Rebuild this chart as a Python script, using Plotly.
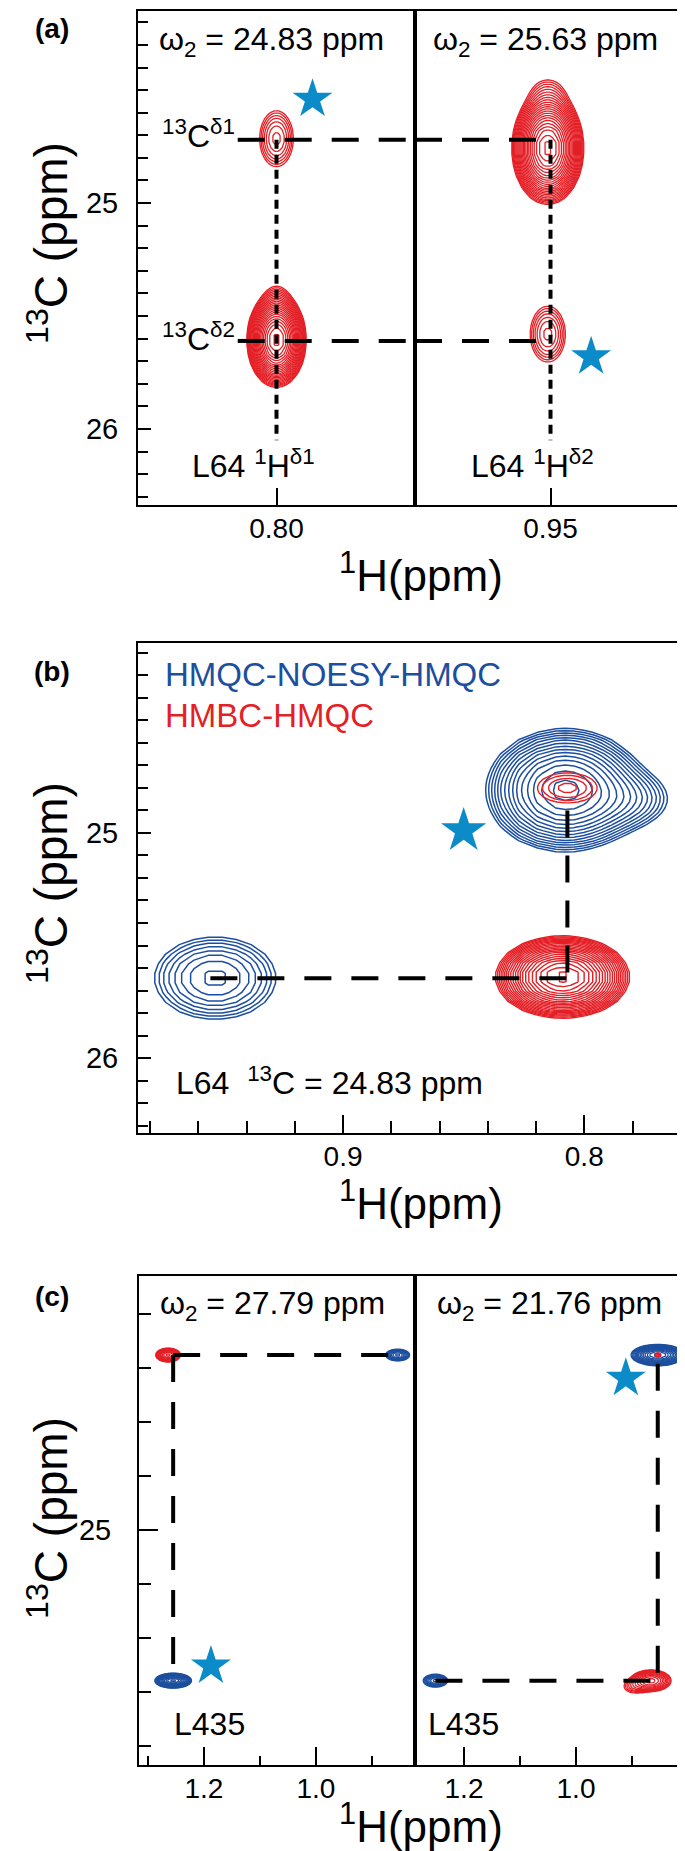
import numpy as np
import plotly.graph_objects as go

W, H = 685, 1851
FONT = "Liberation Sans, Arial, sans-serif"
RED = "#e41f26"
BLUE = "#1d4f9f"
STAR = "#0b8bc7"
STEP = 0.22  # contour spacing in ln(intensity)

# ---------------- (a) L64 HMBC-HMQC strips ----------------
a_strip_h = [0.80, 0.95]
a_strip_w2 = ["24.83", "25.63"]
a_c_d1, a_c_d2 = 24.72, 25.61
a_line_from = 0.814
a_line_end = 26.05
# peaks: strip, 1H, 13C, 1H half-extent, 13C half-extent, number of contours
a_pk_strip = [0, 0, 0, 1, 1, 1]
a_pk_h = [0.800, 0.800, 0.800, 0.951, 0.951, 0.951]
a_pk_c = [24.715, 25.606, 25.45, 24.757, 24.53, 25.58]
a_pk_wh = [0.0061, 0.0108, 0.0038, 0.0134, 0.0055, 0.0065]
a_pk_wc = [0.124, 0.21, 0.07, 0.25, 0.07, 0.124]
a_pk_n = [6, 22, 3, 22, 3, 6]
a_star_h = [0.787, 0.935]
a_star_c = [24.54, 25.68]

# ---------------- (b) L64 overlay ----------------
b_pk_col = ["b", "b", "b", "r", "r"]
b_pk_h = [0.953, 0.808, 0.783, 0.807, 0.809]
b_pk_c = [25.645, 24.81, 24.85, 24.80, 25.64]
b_pk_wh = [0.0253, 0.033, 0.0166, 0.0124, 0.028]
b_pk_wc = [0.184, 0.276, 0.11, 0.067, 0.184]
b_pk_n = [7, 14, 5, 3, 20]
b_line_h = [0.955, 0.807]
b_line_c = [24.90, 25.645]
b_star = (0.850, 24.99)

# ---------------- (c) L435 strips ----------------
c_strip_w2 = ["27.79", "21.76"]
c_c = [21.76, 27.79]
c_h_left = [1.255, 0.855]
c_h_right = [1.251, 0.854]
c_pk_strip = [0, 0, 0, 1, 1, 1, 1, 1]
c_pk_col = ["b", "b", "r", "b", "b", "r", "r", "r"]
c_pk_h = [1.255, 0.854, 1.264, 0.854, 1.251, 0.866, 0.895, 0.854]
c_pk_c = [27.79, 21.76, 21.76, 21.76, 27.79, 27.79, 27.90, 21.76]
c_pk_wh = [0.033, 0.0214, 0.0223, 0.048, 0.022, 0.036, 0.018, 0.005]
c_pk_wc = [0.139, 0.11, 0.13, 0.2, 0.12, 0.2, 0.11, 0.04]
c_pk_n = [14, 8, 10, 14, 8, 10, 3, 2]
c_star_h = [1.1875, 0.911]
c_star_c = [27.52, 22.19]


def fx(p):
    return p / W


def fy(p):
    return 1 - p / H


def surface(h, c, wh, wc, n, nx=16, ny=16):
    xs = np.unique(np.round(np.concatenate(
        [np.linspace(p - 1.5 * w, p + 1.5 * w, nx) for p, w in zip(h, wh)]), 5))
    ys = np.unique(np.round(np.concatenate(
        [np.linspace(q - 1.5 * w, q + 1.5 * w, ny) for q, w in zip(c, wc)]), 5))
    X, Y = np.meshgrid(xs, ys)
    S = np.zeros_like(X)
    for p, q, u, v, k in zip(h, c, wh, wc, n):
        lna = k * STEP + 0.08
        S += np.exp(lna * (1 - ((X - p) / u) ** 2 - ((Y - q) / v) ** 2))
    return xs, ys, np.round(np.log(S + 1e-3), 3)


def contour(sel, h, c, wh, wc, n, color, xa, ya, nx=16, ny=16, width=1.3):
    idx = [i for i, s in enumerate(sel) if s]
    xs, ys, z = surface([h[i] for i in idx], [c[i] for i in idx], [wh[i] for i in idx],
                        [wc[i] for i in idx], [n[i] for i in idx], nx, ny)
    return go.Contour(x=xs, y=ys, z=z, xaxis=xa, yaxis=ya, autocontour=False,
                      contours=dict(start=0, end=40, size=STEP, coloring="lines"),
                      colorscale=[[0, color], [1, color]], showscale=False,
                      line=dict(width=width, smoothing=0), hoverinfo="skip")


def dashed(x, y, xa, ya, dash="27px,20px"):
    return go.Scatter(x=x, y=y, xaxis=xa, yaxis=ya, mode="lines",
                      line=dict(color="black", width=4, dash=dash), hoverinfo="skip")


def star(x, y, xa, ya, size=30):
    return go.Scatter(x=x, y=y, xaxis=xa, yaxis=ya, mode="markers",
                      marker=dict(symbol="star", size=size, color=STAR, line=dict(width=0)),
                      hoverinfo="skip")


fig = go.Figure()

# (a)
for s, (xa, ya) in enumerate([("x", "y"), ("x2", "y2")]):
    fig.add_trace(contour([k == s for k in a_pk_strip], a_pk_h, a_pk_c, a_pk_wh, a_pk_wc,
                          a_pk_n, RED, xa, ya))
    hc = a_strip_h[s]
    fig.add_trace(dashed([hc, hc], [a_c_d1, a_line_end], xa, ya, dash="9px,6px"))
for cc in [a_c_d1, a_c_d2]:
    fig.add_trace(dashed([a_line_from, 0.75], [cc, cc], "x", "y"))
    fig.add_trace(dashed([1.0, a_strip_h[1] + 0.001], [cc, cc], "x2", "y2"))
fig.add_trace(star([a_star_h[0]], [a_star_c[0]], "x", "y"))
fig.add_trace(star([a_star_h[1]], [a_star_c[1]], "x2", "y2"))

# (b)
fig.add_trace(contour([k == "b" for k in b_pk_col], b_pk_h, b_pk_c, b_pk_wh, b_pk_wc,
                      b_pk_n, BLUE, "x3", "y3", 14, 14, 1.5))
fig.add_trace(contour([k == "r" for k in b_pk_col], b_pk_h, b_pk_c, b_pk_wh, b_pk_wc,
                      b_pk_n, RED, "x3", "y3", 14, 14, 1.4))
fig.add_trace(dashed([b_line_h[0], b_line_h[1]], [b_line_c[1], b_line_c[1]], "x3", "y3"))
fig.add_trace(dashed([b_line_h[1], b_line_h[1]], [b_line_c[0], b_line_c[1]], "x3", "y3",
                     dash="27px,18px"))
fig.add_trace(star([b_star[0]], [b_star[1]], "x3", "y3", 34))

# (c)
for s, (xa, ya) in enumerate([("x4", "y4"), ("x5", "y5")]):
    for col, clr in [("b", BLUE), ("r", RED)]:
        fig.add_trace(contour([k == s and q == col for k, q in zip(c_pk_strip, c_pk_col)],
                              c_pk_h, c_pk_c, c_pk_wh, c_pk_wc, c_pk_n, clr, xa, ya))
    fig.add_trace(star([c_star_h[s]], [c_star_c[s]], xa, ya))
fig.add_trace(dashed(c_h_left, [c_c[0], c_c[0]], "x4", "y4"))
fig.add_trace(dashed([c_h_left[0], c_h_left[0]], [c_c[0], c_c[1] + 0.06], "x4", "y4"))
fig.add_trace(dashed(c_h_right, [c_c[1], c_c[1]], "x5", "y5"))
fig.add_trace(dashed([c_h_right[1], c_h_right[1]], [c_c[0] + 0.16, c_c[1]], "x5", "y5"))


def ax(**kw):
    base = dict(showline=True, linecolor="black", linewidth=2, mirror=True, showgrid=False,
                zeroline=False, ticks="inside", tickcolor="black", tickwidth=2,
                tickfont=dict(family=FONT, size=29, color="black"), fixedrange=True)
    base.update(kw)
    return base


def xax(**kw):
    return ax(tickfont=dict(family=FONT, size=28, color="black"), ticklabelstandoff=-3, **kw)


def minor(dt, t0, ln):
    return dict(dtick=dt, tick0=t0, ticklen=ln, ticks="inside", tickwidth=2, tickcolor="black")


a_yr = [26.336, 24.150]
b_yr = [26.333, 24.156]
c_yr = [29.352, 20.296]

layout_axes = dict(
    xaxis=xax(domain=[fx(130), fx(407)], range=[0.85, 0.75], anchor="y", tick0=0.8, dtick=1,
              tickformat=".2f", ticklen=17),
    yaxis=ax(domain=[fy(497), fy(3)], range=a_yr, anchor="x", tick0=25, dtick=1, ticklen=13,
             minor=minor(0.1, 25, 10), ticklabelstandoff=12),
    xaxis2=xax(domain=[fx(407), fx(678)], range=[1.0, 0.90], anchor="y2", tick0=0.95, dtick=1,
               tickformat=".2f", ticklen=17),
    yaxis2=ax(domain=[fy(497), fy(3)], range=a_yr, anchor="x2", ticks="", showticklabels=False),
    xaxis3=xax(domain=[fx(130), fx(680)], range=[0.985, 0.757], anchor="y3", tick0=0.8,
               dtick=0.1, tickformat=".1f", ticklen=18, minor=minor(0.02, 0.8, 12)),
    yaxis3=ax(domain=[fy(1125), fy(635)], range=b_yr, anchor="x3", tick0=25, dtick=1,
              ticklen=13, minor=minor(0.1, 25, 10), ticklabelstandoff=12),
    xaxis4=xax(domain=[fx(131), fx(407)], range=[1.316, 0.823], anchor="y4", tick0=1.0,
               dtick=0.2, tickformat=".1f", ticklen=18, minor=minor(0.1, 1.0, 9)),
    yaxis4=ax(domain=[fy(1757), fy(1268)], range=c_yr, anchor="x4", tick0=25, dtick=10,
              ticklen=19, minor=minor(1, 25, 12), ticklabelstandoff=20),
    xaxis5=xax(domain=[fx(407), fx(680)], range=[1.2875, 0.80], anchor="y5", tick0=1.0,
               dtick=0.2, tickformat=".1f", ticklen=18, minor=minor(0.1, 1.0, 9)),
    yaxis5=ax(domain=[fy(1757), fy(1268)], range=c_yr, anchor="x5", ticks="",
              showticklabels=False),
)

ann = []


def text(t, x, y, size, color="black", xanchor="center", angle=0):
    ann.append(dict(text=t, x=fx(x), y=fy(y), xref="paper", yref="paper", showarrow=False,
                    xanchor=xanchor, yanchor="middle", textangle=angle,
                    font=dict(family=FONT, size=size, color=color)))


W2 = "\u03c9<sub>2</sub> = {} ppm"
# panel letters
text("<b>(a)</b>", 44, 20, 28)
text("<b>(b)</b>", 44, 663, 28)
text("<b>(c)</b>", 44, 1288, 28)
# axis titles
for yc in [235, 875, 1510]:
    text("<sup>13</sup>C (ppm)", 40, yc, 46, angle=-90)
for yc in [564, 1192, 1815]:
    text("<sup>1</sup>H(ppm)", 413, yc, 44)
# (a)
text(W2.format(a_strip_w2[0]), 149, 34, 32, xanchor="left")
text(W2.format(a_strip_w2[1]), 423, 34, 32, xanchor="left")
text("<sup>13</sup>C<sup>\u03b41</sup>", 229, 126, 32, xanchor="right")
text("<sup>13</sup>C<sup>\u03b42</sup>", 229, 329, 32, xanchor="right")
text("L64 <sup>1</sup>H<sup>\u03b41</sup>", 245, 456, 32)
text("L64 <sup>1</sup>H<sup>\u03b42</sup>", 524, 456, 32)
# (b)
text("HMQC-NOESY-HMQC", 155, 667, 33, BLUE, "left")
text("HMBC-HMQC", 155, 707, 33, RED, "left")
text("L64\u00a0\u00a0<sup>13</sup>C = 24.83 ppm", 166, 1073, 32, xanchor="left")
# (c)
text(W2.format(c_strip_w2[0]), 150, 1297, 32, xanchor="left")
text(W2.format(c_strip_w2[1]), 427, 1297, 32, xanchor="left")
text("L435", 164, 1716, 32, xanchor="left")
text("L435", 418, 1716, 32, xanchor="left")

fig.update_layout(
    width=W, height=H, autosize=False, margin=dict(l=0, r=0, t=0, b=0),
    paper_bgcolor="white", plot_bgcolor="white", showlegend=False,
    font=dict(family=FONT, color="black"), annotations=ann, **layout_axes)

fig.write_html("out.html")
